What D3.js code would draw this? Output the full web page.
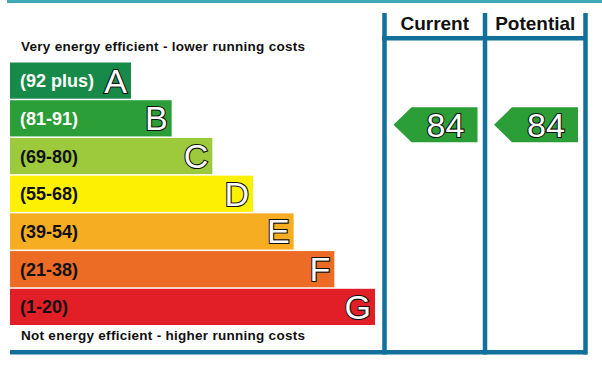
<!DOCTYPE html>
<html><head><meta charset="utf-8">
<script src="https://cdn.jsdelivr.net/npm/d3@7"></script>
<style>body{margin:0;background:#fff}svg{display:block}</style>
</head><body>
<script>
const letters = ["A","B","C","D","E","F","G"];
const ranges = ["(92 plus)","(81-91)","(69-80)","(55-68)","(39-54)","(21-38)","(1-20)"];
const colors = ["#178a4a","#2b9e37","#9dca3c","#fdf000","#f6ad22","#ec6b25","#e21f27"];
const labelColors = ["#fff","#fff","#111","#111","#111","#111","#111"];
const columns = ["Current","Potential"];
const scores = [84, 84];
const scoreBands = ["B","B"];
const topText = "Very energy efficient - lower running costs";
const bottomText = "Not energy efficient - higher running costs";

const W = 602, H = 382;
const frame = "#12709a";
const font = "'Liberation Sans', Arial, sans-serif";
const svg = d3.select("body").append("svg").attr("width", W).attr("height", H);

const y = d3.scaleBand().domain(letters).range([62.5, 325]).paddingInner(0.04).paddingOuter(0);
const wScale = d3.scaleLinear().domain([0, 6]).range([121, 365]);
const x0 = 10;
const colX = d3.scaleBand().domain(columns).range([384.5, 585.5]);

// top teal band
svg.append("rect").attr("x", 7).attr("y", 0).attr("width", W - 7).attr("height", 3).attr("fill", "#3ea8b6");

// bars
const g = svg.append("g");
letters.forEach((L, i) => {
  const yy = y(L), h = y.bandwidth(), w = wScale(i);
  g.append("rect").attr("x", x0).attr("y", yy).attr("width", w).attr("height", h).attr("fill", colors[i]);
  g.append("text").attr("x", x0 + 10).attr("y", yy + h / 2 + 6.5)
    .attr("font-family", font).attr("font-weight", "bold").attr("font-size", 18)
    .attr("fill", labelColors[i]).text(ranges[i]);
  g.append("text").attr("x", x0 + w - 4).attr("y", yy + h / 2 + 12)
    .attr("text-anchor", "end").attr("font-family", font).attr("font-size", 34)
    .attr("fill", "#fff").attr("stroke", "#111").attr("stroke-width", 2.2)
    .attr("paint-order", "stroke").text(L);
});

svg.append("text").attr("x", 21).attr("y", 51).attr("font-family", font).attr("font-weight", "bold")
  .attr("font-size", 13.5).attr("textLength", 284).attr("lengthAdjust", "spacing")
  .attr("fill", "#111").text(topText);
svg.append("text").attr("x", 21).attr("y", 340).attr("font-family", font).attr("font-weight", "bold")
  .attr("font-size", 13.5).attr("textLength", 284).attr("lengthAdjust", "spacing")
  .attr("fill", "#111").text(bottomText);

// frame
const lw = 4.5;
svg.append("rect").attr("x", x0).attr("y", 350).attr("width", 587 - x0).attr("height", lw).attr("fill", frame);
svg.append("rect").attr("x", 382).attr("y", 36).attr("width", 587 - 382).attr("height", lw).attr("fill", frame);
[colX("Current"), colX("Potential"), colX("Potential") + colX.bandwidth()].forEach(xx => {
  svg.append("rect").attr("x", xx - lw / 2).attr("y", 13).attr("width", lw).attr("height", 354.5 - 13).attr("fill", frame);
});

// headers
columns.forEach(c => {
  svg.append("text").attr("x", colX(c) + colX.bandwidth() / 2).attr("y", 30)
    .attr("text-anchor", "middle").attr("font-family", font).attr("font-weight", "bold")
    .attr("font-size", 19).attr("fill", "#111").text(c);
});

// arrows
columns.forEach((c, i) => {
  const band = scoreBands[i];
  const idx = letters.indexOf(band);
  const top = y(band) + 7, h = 35;
  const left = colX(c) + 9, right = colX(c) + 93, tipW = 18;
  const path = d3.path();
  path.moveTo(left, top + h / 2);
  path.lineTo(left + tipW, top);
  path.lineTo(right, top);
  path.lineTo(right, top + h);
  path.lineTo(left + tipW, top + h);
  path.closePath();
  svg.append("path").attr("d", path.toString()).attr("fill", colors[idx]);
  svg.append("text").attr("x", left + tipW + (right - left - tipW) / 2 + 1).attr("y", top + h / 2 + 12)
    .attr("text-anchor", "middle").attr("font-family", font).attr("font-size", 34)
    .attr("fill", "#fff").attr("stroke", "#111").attr("stroke-width", 2.2)
    .attr("paint-order", "stroke").text(scores[i]);
});
</script>
</body></html>
